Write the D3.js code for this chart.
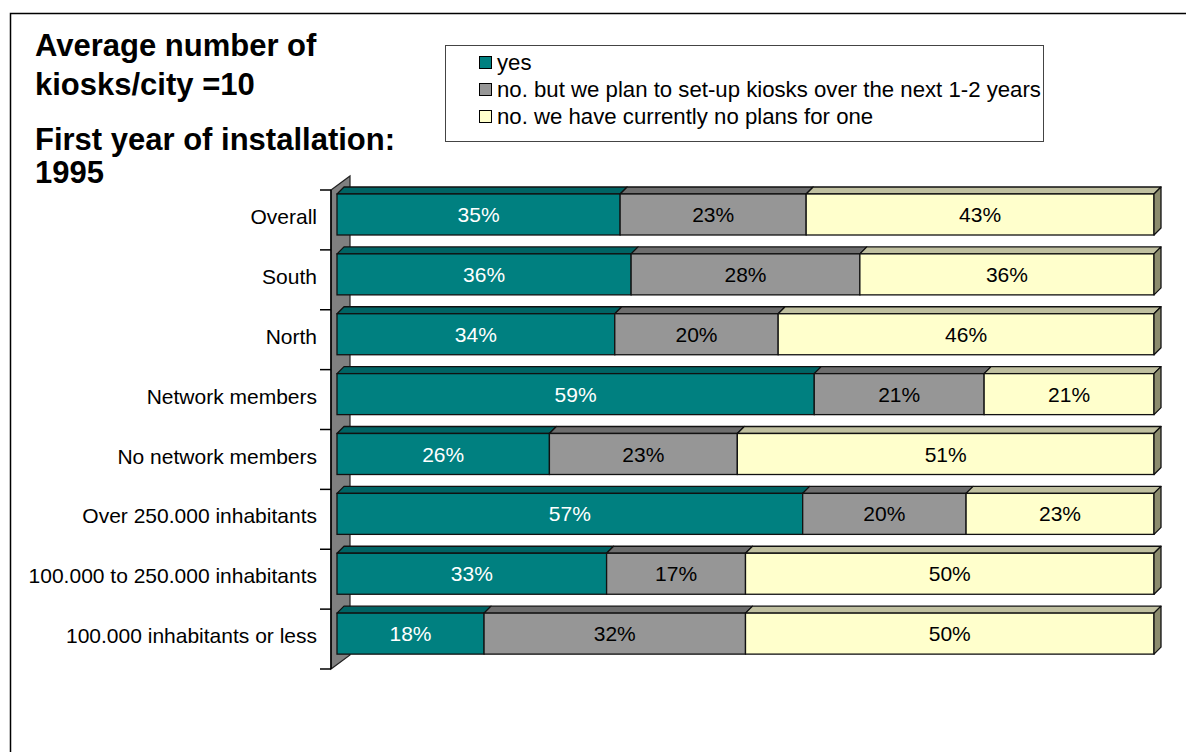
<!DOCTYPE html>
<html>
<head>
<meta charset="utf-8">
<script src="https://cdn.jsdelivr.net/npm/d3@7"></script>
<style>
  html, body { margin: 0; padding: 0; background: #fff; }
  svg { display: block; }
  text { font-family: Arial, "Liberation Sans", sans-serif; }
</style>
</head>
<body>
<svg id="chart" width="1186" height="752"></svg>
<script>
// Kiosk survey: share of cities with information kiosks, by group
const categories = [
  "Overall",
  "South",
  "North",
  "Network members",
  "No network members",
  "Over 250.000 inhabitants",
  "100.000 to 250.000 inhabitants",
  "100.000 inhabitants or less"
];
const seriesNames = [
  "yes",
  "no. but we plan to set-up kiosks over the next 1-2 years",
  "no. we have currently no plans for one"
];
const yesValues     = [35, 36, 34, 59, 26, 57, 33, 18];
const planValues    = [23, 28, 20, 21, 23, 20, 17, 32];
const noPlanValues  = [43, 36, 46, 21, 51, 23, 50, 50];
const titleLines = [
  "Average number of",
  "kiosks/city =10",
  "First year of installation:",
  "1995"
];

const seriesValues = [yesValues, planValues, noPlanValues];
const frontColors = ["#008080", "#969696", "#FFFFCC"];
const topColors   = ["#006464", "#6E6E6E", "#C0C0A0"];
const sideColors  = ["#004C4C", "#505050", "#8C8C6E"];
const labelColors = ["#ffffff", "#000000", "#000000"];

const svg = d3.select("#chart");

// outer frame (top and left edges visible)
svg.append("path")
  .attr("d", "M10.5,752 L10.5,13.5 L1186,13.5")
  .attr("fill", "none").attr("stroke", "#000").attr("stroke-width", 1.5);

// title block
const titleBaselines = [56, 95, 150, 183];
svg.append("g").selectAll("text").data(titleLines).join("text")
  .attr("x", 35)
  .attr("y", (d, i) => titleBaselines[i])
  .attr("font-size", 31)
  .attr("font-weight", "bold")
  .attr("fill", "#000")
  .text(d => d);

// legend
const legend = svg.append("g");
legend.append("rect")
  .attr("x", 445.5).attr("y", 45.5).attr("width", 598).attr("height", 96)
  .attr("fill", "#fff").attr("stroke", "#444").attr("stroke-width", 1);
const legendRow = d3.scalePoint().domain(seriesNames).range([62, 116]);
const items = legend.selectAll("g.item").data(seriesNames).join("g")
  .attr("class", "item")
  .attr("transform", d => `translate(0,${legendRow(d)})`);
items.append("rect")
  .attr("x", 479.5).attr("y", -5.5).attr("width", 12).attr("height", 12)
  .attr("fill", (d, i) => frontColors[i]).attr("stroke", "#000").attr("stroke-width", 1);
items.append("text")
  .attr("x", 497).attr("y", 0).attr("dy", "0.35em")
  .attr("font-size", 22.2).attr("fill", "#000")
  .text(d => d);

// stacked, normalised to 100%
const rows = categories.map((c, i) => {
  const vals = seriesValues.map(s => s[i]);
  const total = d3.sum(vals);
  let acc = 0;
  const segs = vals.map((v, k) => {
    const s = { k, v, x0: acc / total, x1: (acc + v) / total };
    acc += v;
    return s;
  });
  return { category: c, segs };
});

const x = d3.scaleLinear().domain([0, 1]).range([337, 1154]);
const y = d3.scaleBand().domain(categories).range([190, 669]).paddingInner(0).paddingOuter(0);
const barInset = 4;
const barHeight = 41;
const depth = 7;
const wallDx = 19, wallDy = 14;

// side wall behind the bars
const yTop = y.range()[0], yBot = y.range()[1];
svg.append("path")
  .attr("d", `M331,${yTop} L${331 + wallDx},${yTop - wallDy} L${331 + wallDx},${yBot - wallDy} L331,${yBot} Z`)
  .attr("fill", "#808080").attr("stroke", "#222").attr("stroke-width", 1.2);

// category axis with ticks at band edges
const axis = svg.append("g");
axis.append("line")
  .attr("x1", 331).attr("x2", 331).attr("y1", yTop).attr("y2", yBot)
  .attr("stroke", "#000").attr("stroke-width", 1.5);
const edges = categories.map(c => y(c)).concat([yBot]);
axis.selectAll("line.tick").data(edges).join("line")
  .attr("class", "tick")
  .attr("x1", 320).attr("x2", 331)
  .attr("y1", d => d).attr("y2", d => d)
  .attr("stroke", "#000").attr("stroke-width", 1.5);
axis.selectAll("text").data(categories).join("text")
  .attr("x", 317)
  .attr("y", d => y(d) + barInset + barHeight / 2 + 2)
  .attr("dy", "0.36em")
  .attr("text-anchor", "end")
  .attr("font-size", 21)
  .attr("fill", "#000")
  .text(d => d);

// 3-D bars
const bars = svg.append("g").selectAll("g.bar").data(rows).join("g").attr("class", "bar");
bars.each(function (row) {
  const g = d3.select(this);
  const t = y(row.category) + barInset;
  const b = t + barHeight;
  row.segs.forEach(s => {
    const a = x(s.x0), z = x(s.x1);
    // top face
    g.append("path")
      .attr("d", `M${a},${t} L${a + depth},${t - depth} L${z + depth},${t - depth} L${z},${t} Z`)
      .attr("fill", topColors[s.k]).attr("stroke", "#111").attr("stroke-width", 1.3)
      .attr("stroke-linejoin", "round");
    // front face
    g.append("rect")
      .attr("x", a).attr("y", t).attr("width", z - a).attr("height", barHeight)
      .attr("fill", frontColors[s.k]).attr("stroke", "#111").attr("stroke-width", 1.3);
  });
  const last = row.segs[row.segs.length - 1];
  const e = x(last.x1);
  g.append("path")
    .attr("d", `M${e},${t} L${e + depth},${t - depth} L${e + depth},${b - depth} L${e},${b} Z`)
    .attr("fill", sideColors[last.k]).attr("stroke", "#111").attr("stroke-width", 1.3)
    .attr("stroke-linejoin", "round");
  g.selectAll("text").data(row.segs).join("text")
    .attr("x", s => (x(s.x0) + x(s.x1)) / 2)
    .attr("y", t + barHeight / 2)
    .attr("dy", "0.36em")
    .attr("text-anchor", "middle")
    .attr("font-size", 21)
    .attr("fill", s => labelColors[s.k])
    .text(s => `${s.v}%`);
});
</script>
</body>
</html>
